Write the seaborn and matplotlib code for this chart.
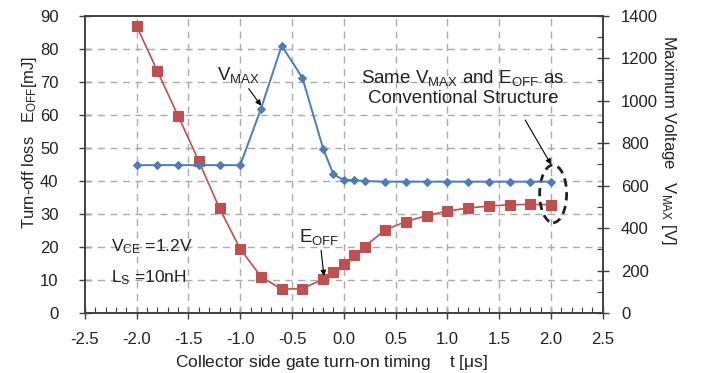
import numpy as np
import pandas as pd
import matplotlib
matplotlib.use("Agg")
import matplotlib.pyplot as plt
from matplotlib.patches import Ellipse
from matplotlib.ticker import MultipleLocator, FormatStrFormatter
import seaborn as sns

# data
t_us = [-2.0, -1.8, -1.6, -1.4, -1.2, -1.0, -0.8, -0.6, -0.4, -0.2, -0.1,
        0.0, 0.1, 0.2, 0.4, 0.6, 0.8, 1.0, 1.2, 1.4, 1.6, 1.8, 2.0]
e_off = [87.0, 73.3, 59.8, 46.0, 31.7, 19.4, 11.0, 7.2, 7.4, 10.2, 12.4,
         14.7, 17.5, 20.1, 25.2, 27.7, 29.5, 30.9, 31.8, 32.4, 32.8, 32.9, 32.8]
v_max = [697, 697, 697, 697, 697, 697, 963, 1260, 1109, 775, 653,
         627, 626, 622, 619, 619, 619, 619, 619, 619, 619, 619, 619]

df = pd.DataFrame({"t": t_us, "eoff": e_off, "vmax": v_max})

RED = "#C0504D"
BLUE = "#4A7EBB"
GRID = "#ABABAB"
FRAME = "#404040"
TXT = "#222222"

sns.set_style("white")
plt.rcParams["font.family"] = ["Liberation Sans", "DejaVu Sans"]
plt.rcParams["mathtext.fontset"] = "custom"
plt.rcParams["mathtext.rm"] = "Liberation Sans"
plt.rcParams["mathtext.it"] = "Liberation Sans"

fig, ax = plt.subplots(figsize=(7.01, 3.73), dpi=100)
fig.subplots_adjust(left=0.121, right=0.86, top=0.957, bottom=0.161)
ax2 = ax.twinx()

sns.lineplot(data=df, x="t", y="eoff", ax=ax, color=RED, marker="s",
             markersize=6.5, markeredgecolor=RED, linewidth=1.2, zorder=3)
sns.lineplot(data=df, x="t", y="vmax", ax=ax2, color=BLUE, marker="D",
             markersize=4, markeredgecolor=BLUE, linewidth=1.4, zorder=3)

ax.set_xlim(-2.5, 2.5)
ax.set_ylim(0, 90)
ax2.set_ylim(0, 1400)
ax.xaxis.set_major_locator(MultipleLocator(0.5))
ax.xaxis.set_minor_locator(MultipleLocator(0.1))
ax.yaxis.set_major_locator(MultipleLocator(10))
ax2.yaxis.set_major_locator(MultipleLocator(200))
ax2.yaxis.set_minor_locator(MultipleLocator(100))
ax.xaxis.set_major_formatter(FormatStrFormatter("%.1f"))

for a in (ax, ax2):
    for s in a.spines.values():
        s.set_color(FRAME)
        s.set_linewidth(1.2)

ax.tick_params(axis="x", which="major", direction="inout", length=8, width=1,
               color=FRAME, labelsize=12, labelcolor=TXT, bottom=True, pad=10)
ax.tick_params(axis="x", which="minor", direction="in", length=4, width=0.8,
               color=FRAME, bottom=True)
ax.tick_params(axis="y", which="major", direction="inout", length=8, width=1,
               color=FRAME, labelsize=12, labelcolor=TXT, left=True, pad=15)
ax2.tick_params(axis="y", which="major", direction="inout", length=8, width=1,
                color=FRAME, labelsize=12, labelcolor=TXT, right=True, pad=9)
ax2.tick_params(axis="y", which="minor", direction="in", length=4, width=0.8,
                color=FRAME, right=True)

# dashed grid on the left-axis scale, from the axis' own ticks, in data coords
x_lo, x_hi = ax.get_xlim()
y_lo, y_hi = ax.get_ylim()
grid_kw = dict(color=GRID, linestyle=(0, (5, 4)), linewidth=1.0, zorder=2.8,
               scalex=False, scaley=False)
for xv in ax.get_xticks():
    if x_lo < xv < x_hi:
        ax.plot([xv, xv], [y_lo, y_hi], **grid_kw)
for yv in ax.get_yticks():
    if y_lo < yv < y_hi:
        ax.plot([x_lo, x_hi], [yv, yv], **grid_kw)

ax.set_xlabel(r"Collector side gate turn-on timing    t [$\mathrm{\mu}$s]",
              fontsize=12.5, color=TXT)
ax.xaxis.set_label_coords(0.477, -0.135)
ax.set_ylabel(r"Turn-off loss   E$_{\mathrm{OFF}}$[mJ]", fontsize=12, color=TXT)
ax.yaxis.set_label_coords(-0.089, 0.576)
ax2.set_ylabel(r"Maximum Voltage   V$_{\mathrm{MAX}}$ [V]", fontsize=12,
               color=TXT, rotation=270, va="bottom")
ax2.yaxis.set_label_coords(1.108, 0.582)

# annotations
ax.annotate(r"V$_{\mathrm{MAX}}$", xy=(-0.79, 62.5), xytext=(-1.22, 70.5),
            fontsize=13.5, color=TXT,
            arrowprops=dict(arrowstyle="-|>", color="black", lw=0.8,
                            mutation_scale=8, shrinkA=0, shrinkB=1))
ax.annotate(r"E$_{\mathrm{OFF}}$", xy=(-0.19, 10.8), xytext=(-0.43, 21.5),
            fontsize=13.5, color=TXT,
            arrowprops=dict(arrowstyle="-|>", color="black", lw=0.8,
                            mutation_scale=8, shrinkA=0, shrinkB=1))
ax.text(1.15, 68.3, "Same V$_{\\mathrm{MAX}}$ and E$_{\\mathrm{OFF}}$ as\nConventional Structure",
        fontsize=13.5, color=TXT, ha="center", va="center", linespacing=1.15)
ax.annotate("", xy=(2.0, 45.0), xytext=(1.75, 58.5),
            arrowprops=dict(arrowstyle="-|>", color="black", lw=0.8,
                            mutation_scale=8, shrinkA=0, shrinkB=0))
ax.add_patch(Ellipse((2.02, 36.1), 0.26, 17.5, fill=False, edgecolor=TXT,
                     linestyle=(0, (3, 2)), linewidth=2.0, zorder=5))

ax.text(-2.25, 18.8, r"V$_{\mathrm{CE}}$ =1.2V", fontsize=12.5, color=TXT)
ax.text(-2.25, 9.3, r"L$_{\mathrm{S}}$ =10nH", fontsize=12.5, color=TXT)

fig.savefig("out.png", dpi=100)
